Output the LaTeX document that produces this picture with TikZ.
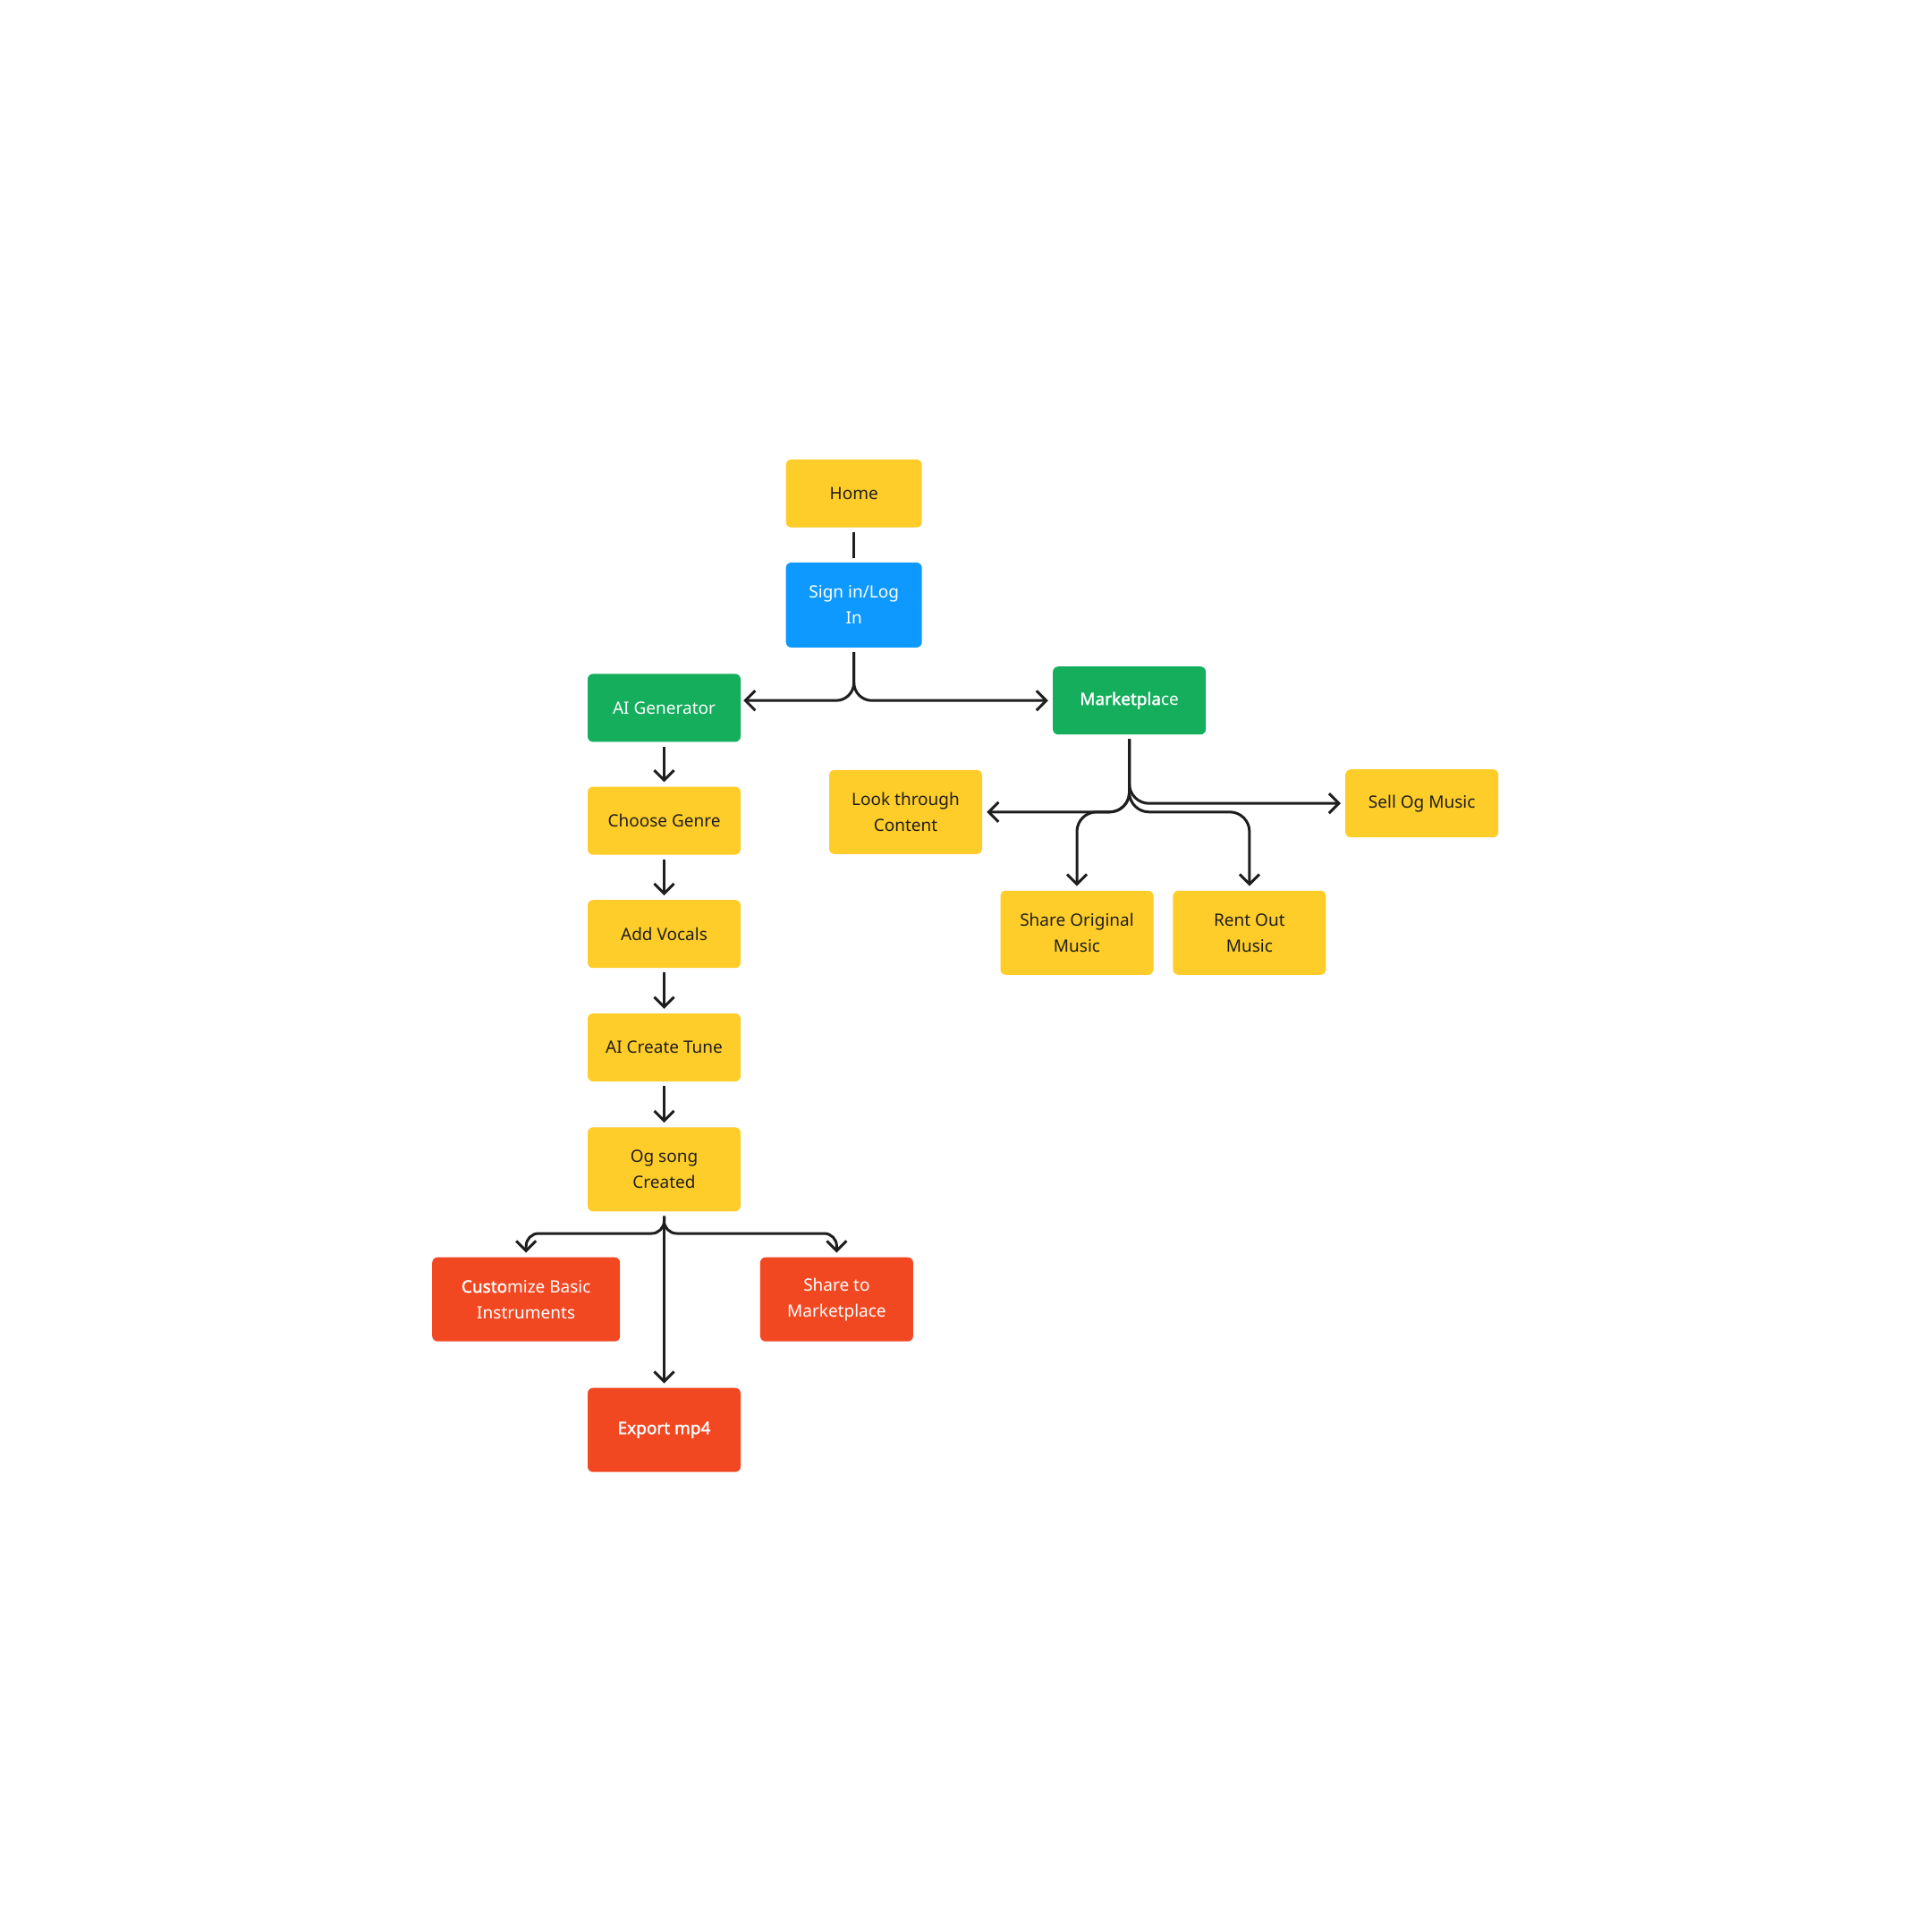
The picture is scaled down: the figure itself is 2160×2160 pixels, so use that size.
\documentclass[tikz,border=0pt]{standalone}
\usepackage{fontspec}
\setmainfont{Noto Sans}[AutoFakeBold=1.6]
\usetikzlibrary{arrows.meta}
\definecolor{cyel}{HTML}{FFCD29}
\definecolor{cblue}{HTML}{0D99FF}
\definecolor{cgreen}{HTML}{14AE5C}
\definecolor{cred}{HTML}{F24822}
\definecolor{ctext}{HTML}{1E1E1E}
\definecolor{cline}{HTML}{1E1E1E}
\tikzset{
  box/.style={rounded corners=6pt, minimum width=171pt, minimum height=76pt,
    align=center, inner sep=4pt, font=\fontsize{19pt}{29pt}\selectfont},
  ybox/.style={box, fill=cyel, text=ctext},
  bbox/.style={box, fill=cblue, text=white},
  gbox/.style={box, fill=cgreen, text=white},
  rbox/.style={box, fill=cred, text=white},
  tall/.style={minimum height=94pt},
  conn/.style={draw=cline, line width=3pt},
  arr/.style={conn, -{Straight Barb[length=11pt,width=22pt,line width=3pt]}},
}
\begin{document}
\begin{tikzpicture}[x=1pt,y=-1pt]
\useasboundingbox (0,0) rectangle (2160,2160);
\node[ybox, minimum width=152pt] (home) at (954.7,551.7) {Home};
\node[bbox, minimum width=152pt, minimum height=95pt] (sign) at (954.7,676.4) {Sign in/Log\\In};
\node[gbox] (aig) at (742.5,791.4) {AI Generator};
\node[gbox] (mkt) at (1262.6,783.2) {\textbf{Marketpla}ce};
\node[ybox] (genre) at (742.5,917.5) {Choose Genre};
\node[ybox] (vocals) at (742.5,1044.2) {Add Vocals};
\node[ybox] (tune) at (742.5,1171) {AI Create Tune};
\node[ybox, tall] (og) at (742.5,1307.3) {Og song\\Created};
\node[rbox, tall, minimum width=210pt] (cust) at (588.2,1452.7) {\textbf{Custo}mize Basic\\Instruments};
\node[rbox, tall] (share) at (935.4,1452.7) {Share to\\Marketplace};
\node[rbox, tall] (export) at (742.5,1598.7) {\textbf{Export mp4}};
\node[ybox, tall] (look) at (1012.5,907.8) {Look through\\Content};
\node[ybox] (sell) at (1589.7,898.2) {Sell Og Music};
\node[ybox, tall] (sorig) at (1204,1042.8) {Share Original\\Music};
\node[ybox, tall] (rent) at (1396.9,1042.8) {Rent Out\\Music};

\draw[conn] ([yshift=-5pt]home.south) -- ([yshift=5pt]sign.north);
\draw[arr, rounded corners=20pt] ([yshift=-5pt]sign.south) |- ([xshift=3pt]aig.east |- mkt.west);
\draw[arr, rounded corners=20pt] ([yshift=-5pt]sign.south) |- ([xshift=-5pt]mkt.west);

\draw[arr] ([yshift=-5pt]aig.south) -- ([yshift=5pt]genre.north);
\draw[arr] ([yshift=-5pt]genre.south) -- ([yshift=5pt]vocals.north);
\draw[arr] ([yshift=-5pt]vocals.south) -- ([yshift=5pt]tune.north);
\draw[arr] ([yshift=-5pt]tune.south) -- ([yshift=5pt]og.north);

\coordinate (mj) at (1262.6,907.8);
\draw[arr, rounded corners=22pt] ([yshift=-5pt]mkt.south) -- (mj) -- ([xshift=5pt]look.east);
\draw[arr, rounded corners=22pt] ([yshift=-5pt]mkt.south) |- ([xshift=-5pt]sell.west);
\draw[arr, rounded corners=22pt] ([yshift=-5pt]mkt.south) -- (mj) -| ([yshift=5pt]sorig.north);
\draw[arr, rounded corners=22pt] ([yshift=-5pt]mkt.south) -- (mj) -| ([yshift=5pt]rent.north);

\coordinate (oj) at (742.5,1379);
\draw[arr] ([yshift=-5pt]og.south) -- ([yshift=5pt]export.north);
\draw[arr, rounded corners=14pt] ([yshift=-5pt]og.south) -- (oj) -| ([yshift=5pt]cust.north);
\draw[arr, rounded corners=14pt] ([yshift=-5pt]og.south) -- (oj) -| ([yshift=5pt]share.north);
\end{tikzpicture}
\end{document}
